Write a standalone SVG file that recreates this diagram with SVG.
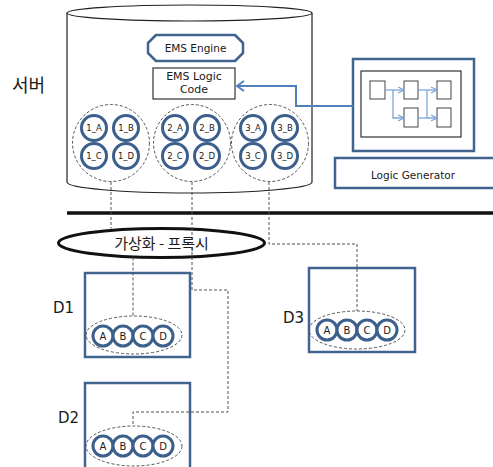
<svg xmlns="http://www.w3.org/2000/svg" width="493" height="467" viewBox="0 0 493 467">
  <style>
    text { font-family: "DejaVu Sans", "Liberation Sans", sans-serif; fill: #1a1a1a; }
    .ko { font-family: "Noto Sans CJK KR", "DejaVu Sans", sans-serif; }
    .dash { fill: none; stroke: #555; stroke-width: 1; stroke-dasharray: 3 2; }
    .unit { fill: #fff; stroke: #3d5f8c; stroke-width: 3; }
    .box { fill: #fff; stroke: #41638f; stroke-width: 2.5; }
    .thin { fill: #fff; stroke: #333; stroke-width: 1.2; }
    .lbl { font-size: 8.5px; text-anchor: middle; }
    .abcd { font-size: 10px; text-anchor: middle; }
    .dlbl { font-size: 15px; }
    .flow { fill: none; stroke: #7ea6d8; stroke-width: 1.3; }
  </style>
  <defs>
    <marker id="openArrow" markerWidth="8" markerHeight="8" refX="7" refY="4" orient="auto" markerUnits="userSpaceOnUse">
      <path d="M1,1 L7,4 L1,7" fill="none" stroke="#7ea6d8" stroke-width="1.2"/>
    </marker>
    <marker id="codeArrow" markerWidth="12" markerHeight="12" refX="9" refY="6" orient="auto" markerUnits="userSpaceOnUse">
      <path d="M2,1 L9,6 L2,11" fill="none" stroke="#4f81bd" stroke-width="2"/>
    </marker>
  </defs>

  <!-- server label -->
  <text class="ko" x="12" y="92" font-size="18">서버</text>

  <!-- server cylinder -->
  <g id="server">
    <path d="M67,13 L67,182 A122.5,11 0 0 0 312,182 L312,13" fill="#fff" stroke="#222" stroke-width="1.2"/>
    <ellipse cx="189.5" cy="13" rx="122.5" ry="8" fill="#fff" stroke="#222" stroke-width="1.2"/>
  </g>

  <g id="ems-engine">
    <path d="M156,35 L235,35 L243,43 L243,53 L235,61 L156,61 L148,53 L148,43 Z" class="box" stroke-linejoin="round"/>
    <text x="195.5" y="52" font-size="10.5" text-anchor="middle">EMS Engine</text>
  </g>

  <g id="ems-logic-code">
    <rect x="153" y="68" width="82" height="31" class="thin"/>
    <text x="194" y="80" font-size="11" text-anchor="middle">EMS Logic</text>
    <text x="194" y="93" font-size="11" text-anchor="middle">Code</text>
  </g>

  <!-- unit groups -->
  <g id="group-1">
    <circle cx="111" cy="143" r="38.5" class="dash"/>
    <circle cx="94" cy="128" r="12.5" class="unit"/>
    <circle cx="126" cy="128" r="12.5" class="unit"/>
    <circle cx="94" cy="156" r="12.5" class="unit"/>
    <circle cx="126" cy="156" r="12.5" class="unit"/>
    <text x="94" y="131" class="lbl">1_A</text>
    <text x="126" y="131" class="lbl">1_B</text>
    <text x="94" y="159" class="lbl">1_C</text>
    <text x="126" y="159" class="lbl">1_D</text>
  </g>
  <g id="group-2">
    <circle cx="192" cy="143" r="38.5" class="dash"/>
    <circle cx="175" cy="128" r="12.5" class="unit"/>
    <circle cx="207" cy="128" r="12.5" class="unit"/>
    <circle cx="175" cy="156" r="12.5" class="unit"/>
    <circle cx="207" cy="156" r="12.5" class="unit"/>
    <text x="175" y="131" class="lbl">2_A</text>
    <text x="207" y="131" class="lbl">2_B</text>
    <text x="175" y="159" class="lbl">2_C</text>
    <text x="207" y="159" class="lbl">2_D</text>
  </g>
  <g id="group-3">
    <circle cx="270" cy="143" r="38.5" class="dash"/>
    <circle cx="253" cy="128" r="12.5" class="unit"/>
    <circle cx="285" cy="128" r="12.5" class="unit"/>
    <circle cx="253" cy="156" r="12.5" class="unit"/>
    <circle cx="285" cy="156" r="12.5" class="unit"/>
    <text x="253" y="131" class="lbl">3_A</text>
    <text x="285" y="131" class="lbl">3_B</text>
    <text x="253" y="159" class="lbl">3_C</text>
    <text x="285" y="159" class="lbl">3_D</text>
  </g>

  <!-- logic generator -->
  <g id="logic-generator">
    <rect x="353" y="59" width="121" height="92" class="box"/>
    <rect x="361" y="71" width="100" height="66" class="thin"/>
    <rect x="370" y="81" width="15" height="18" fill="#fff" stroke="#444" stroke-width="1"/>
    <rect x="404" y="81" width="14" height="18" fill="#fff" stroke="#444" stroke-width="1"/>
    <rect x="437" y="81" width="14" height="18" fill="#fff" stroke="#444" stroke-width="1"/>
    <rect x="404" y="108" width="14" height="19" fill="#fff" stroke="#444" stroke-width="1"/>
    <rect x="437" y="108" width="14" height="19" fill="#fff" stroke="#444" stroke-width="1"/>
    <path d="M385,90 L404,90" class="flow" marker-end="url(#openArrow)"/>
    <path d="M393,90 L393,118 L404,118" class="flow" marker-end="url(#openArrow)"/>
    <path d="M418,90 L437,90" class="flow" marker-end="url(#openArrow)"/>
    <path d="M427,90 L427,118 L437,118" class="flow" marker-end="url(#openArrow)"/>
    <path d="M418,118 L427,118" class="flow"/>
  </g>
  <g id="logic-generator-label">
    <rect x="335" y="158" width="162" height="30" class="box"/>
    <text x="413" y="179" font-size="10.5" text-anchor="middle">Logic Generator</text>
  </g>

  <!-- network divider -->
  <line x1="67" y1="213" x2="493" y2="213" stroke="#111" stroke-width="3.5"/>

  <g id="proxy">
    <ellipse cx="161.5" cy="243" rx="103" ry="14.5" fill="#fff" stroke="#111" stroke-width="3"/>
    <text class="ko" x="161.5" y="249" font-size="15" text-anchor="middle">가상화 - 프록시</text>
  </g>

  <!-- devices -->
  <g id="d1">
    <text x="53" y="313" class="dlbl">D1</text>
    <rect x="85" y="273" width="105" height="84" class="box"/>
    <ellipse cx="134" cy="335" rx="48" ry="19" class="dash"/>
    <circle cx="103" cy="336" r="10" class="unit"/>
    <circle cx="123" cy="336" r="10" class="unit"/>
    <circle cx="143" cy="336" r="10" class="unit"/>
    <circle cx="163" cy="336" r="10" class="unit"/>
    <text x="103" y="340" class="abcd">A</text>
    <text x="123" y="340" class="abcd">B</text>
    <text x="143" y="340" class="abcd">C</text>
    <text x="163" y="340" class="abcd">D</text>
  </g>
  <g id="d2">
    <text x="58" y="423" class="dlbl">D2</text>
    <rect x="85" y="383" width="105" height="90" class="box"/>
    <ellipse cx="134" cy="446" rx="48" ry="20" class="dash"/>
    <circle cx="103" cy="446" r="10" class="unit"/>
    <circle cx="123" cy="446" r="10" class="unit"/>
    <circle cx="143" cy="446" r="10" class="unit"/>
    <circle cx="163" cy="446" r="10" class="unit"/>
    <text x="103" y="450" class="abcd">A</text>
    <text x="123" y="450" class="abcd">B</text>
    <text x="143" y="450" class="abcd">C</text>
    <text x="163" y="450" class="abcd">D</text>
  </g>
  <g id="d3">
    <text x="283" y="323" class="dlbl">D3</text>
    <rect x="309" y="268" width="106" height="84" class="box"/>
    <ellipse cx="357" cy="330" rx="48" ry="19" class="dash"/>
    <circle cx="327" cy="330" r="10" class="unit"/>
    <circle cx="347" cy="330" r="10" class="unit"/>
    <circle cx="367" cy="330" r="10" class="unit"/>
    <circle cx="387" cy="330" r="10" class="unit"/>
    <text x="327" y="334" class="abcd">A</text>
    <text x="347" y="334" class="abcd">B</text>
    <text x="367" y="334" class="abcd">C</text>
    <text x="387" y="334" class="abcd">D</text>
  </g>

  <!-- connectors -->
  <g id="connectors">
    <path d="M353,106 L296,106 L296,86 L237,86" fill="none" stroke="#4f81bd" stroke-width="2" marker-end="url(#codeArrow)"/>
    <path d="M111,182 L111,228.5" class="dash"/>
    <path d="M133,257.5 L133,316" class="dash"/>
    <path d="M192,182 L192,290 L228,290 L228,412 L133,412 L133,426" class="dash"/>
    <path d="M269,182 L269,244 L357,244 L357,311" class="dash"/>
  </g>
</svg>
